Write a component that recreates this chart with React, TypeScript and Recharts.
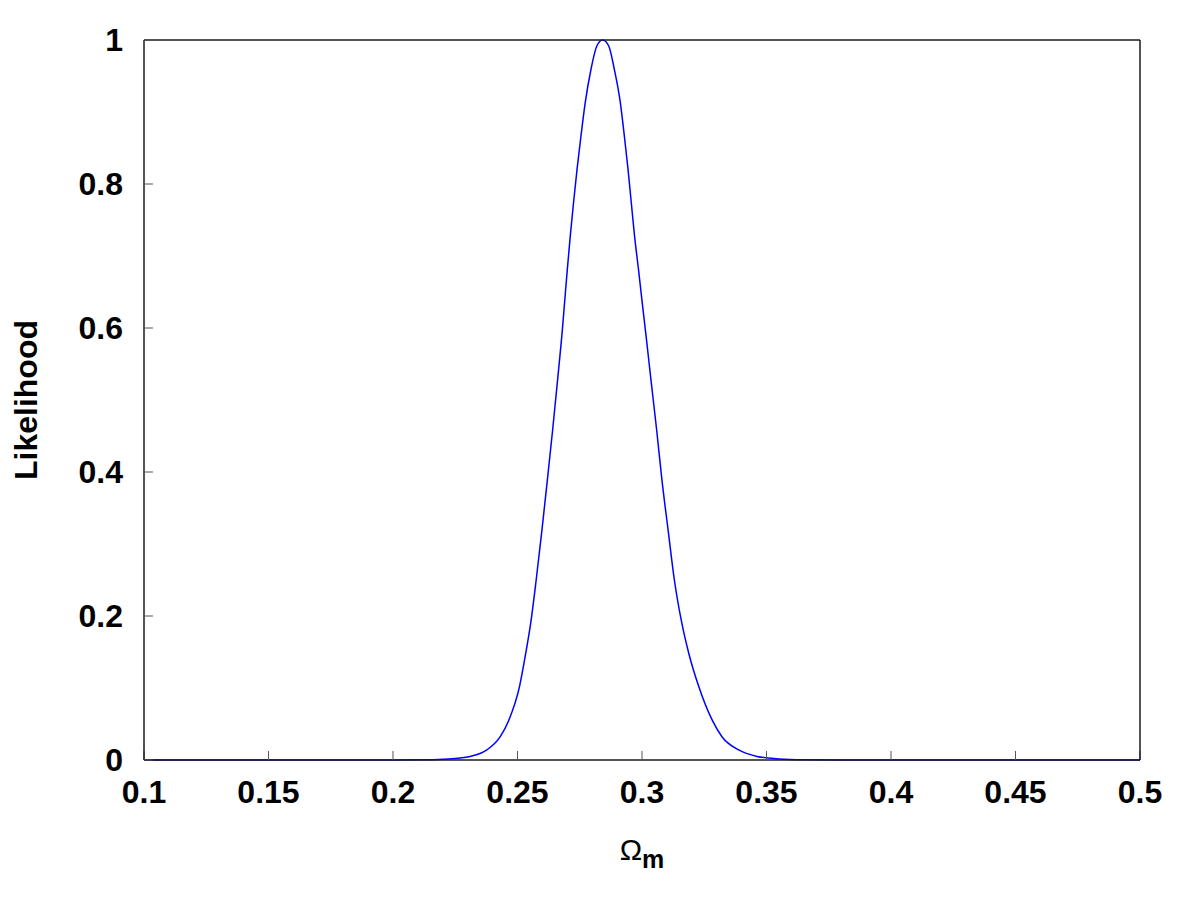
import { LineChart, Line, XAxis, YAxis } from 'recharts';

// Omega_m positions and likelihood values
const omegaM = [
  0.1, 0.15, 0.2, 0.215, 0.22, 0.226, 0.231, 0.2377, 0.243, 0.2466, 0.2508, 0.2533, 0.2553,
  0.2575, 0.2598, 0.262, 0.2641, 0.2661, 0.268, 0.2689, 0.27, 0.2712, 0.2725, 0.2739, 0.2755,
  0.2772, 0.2795, 0.2819, 0.2842, 0.2866, 0.2889, 0.2913, 0.2929, 0.2944, 0.2957, 0.297,
  0.2986, 0.3001, 0.3016, 0.3036, 0.3059, 0.308, 0.3105, 0.313, 0.316, 0.3188, 0.3228,
  0.3281, 0.3322, 0.3388, 0.3462, 0.355, 0.365, 0.38, 0.4, 0.45, 0.5,
];
const likelihood = [
  0, 0, 0, 0.0003, 0.001, 0.0025, 0.005, 0.014, 0.032, 0.056, 0.102, 0.148, 0.19,
  0.25, 0.319, 0.389, 0.458, 0.528, 0.597, 0.635, 0.681, 0.728, 0.774, 0.82, 0.867,
  0.913, 0.959, 0.992, 1.0, 0.992, 0.959, 0.913, 0.867, 0.82, 0.774, 0.728,
  0.681, 0.635, 0.59, 0.528, 0.458, 0.389, 0.319, 0.25, 0.19, 0.148, 0.102,
  0.056, 0.032, 0.014, 0.005, 0.0015, 0.0003, 0, 0, 0, 0,
];

const xTicks = [0.1, 0.15, 0.2, 0.25, 0.3, 0.35, 0.4, 0.45, 0.5];
const yTicks = [0, 0.2, 0.4, 0.6, 0.8, 1];

const data = omegaM.map((x, i) => ({ x, y: likelihood[i] }));

const font = '"Liberation Sans", Arial, Helvetica, sans-serif';
const tickStyle = { fontSize: 32, fontWeight: 'bold', fill: '#000', fontFamily: font };
const axisLine = { stroke: '#1a1a1a', strokeWidth: 1.5 };
const tickLine = { stroke: '#555', strokeWidth: 1 };

export default function App() {
  return (
    <div style={{ position: 'absolute', left: 0, top: 0, background: '#fff' }}>
      <LineChart width={1200} height={900} data={data} margin={{ top: 10, right: 0, bottom: 0, left: 0 }}>
        <XAxis
          dataKey="x"
          type="number"
          domain={[0.1, 0.5]}
          ticks={xTicks}
          allowDataOverflow
          height={140}
          tickSize={-9}
          tickMargin={29}
          tick={tickStyle}
          axisLine={axisLine}
          tickLine={tickLine}
          label={{
            content: (props: any) => {
              const vb = props.viewBox;
              return (
                <text x={vb.x + vb.width / 2} y={vb.y + 100} textAnchor="middle" fontFamily={font} fill="#000">
                  <tspan fontSize={30}>Ω</tspan>
                  <tspan fontSize={25} fontWeight="bold" dy={8}>m</tspan>
                </text>
              );
            },
          }}
        />
        <XAxis
          xAxisId="top"
          dataKey="x"
          type="number"
          orientation="top"
          domain={[0.1, 0.5]}
          ticks={xTicks}
          height={30}
          tickSize={-9}
          tick={false}
          axisLine={axisLine}
          tickLine={tickLine}
        />
        <YAxis
          type="number"
          domain={[0, 1]}
          ticks={yTicks}
          width={144}
          tickSize={-9}
          tickMargin={30}
          tick={tickStyle}
          axisLine={axisLine}
          tickLine={tickLine}
          label={{
            content: (props: any) => {
              const vb = props.viewBox;
              const cx = vb.x + 37;
              const cy = vb.y + vb.height / 2;
              return (
                <text
                  x={cx}
                  y={cy}
                  transform={`rotate(-90 ${cx} ${cy})`}
                  textAnchor="middle"
                  fontFamily={font}
                  fontSize={32}
                  fontWeight="bold"
                  fill="#000"
                >
                  Likelihood
                </text>
              );
            },
          }}
        />
        <YAxis
          yAxisId="right"
          orientation="right"
          type="number"
          domain={[0, 1]}
          ticks={yTicks}
          width={60}
          tickSize={-9}
          tick={false}
          axisLine={axisLine}
          tickLine={tickLine}
        />
        <Line
          type="monotone"
          dataKey="y"
          stroke="#0000ff"
          strokeWidth={1.5}
          dot={false}
          isAnimationActive={false}
        />
      </LineChart>
    </div>
  );
}
